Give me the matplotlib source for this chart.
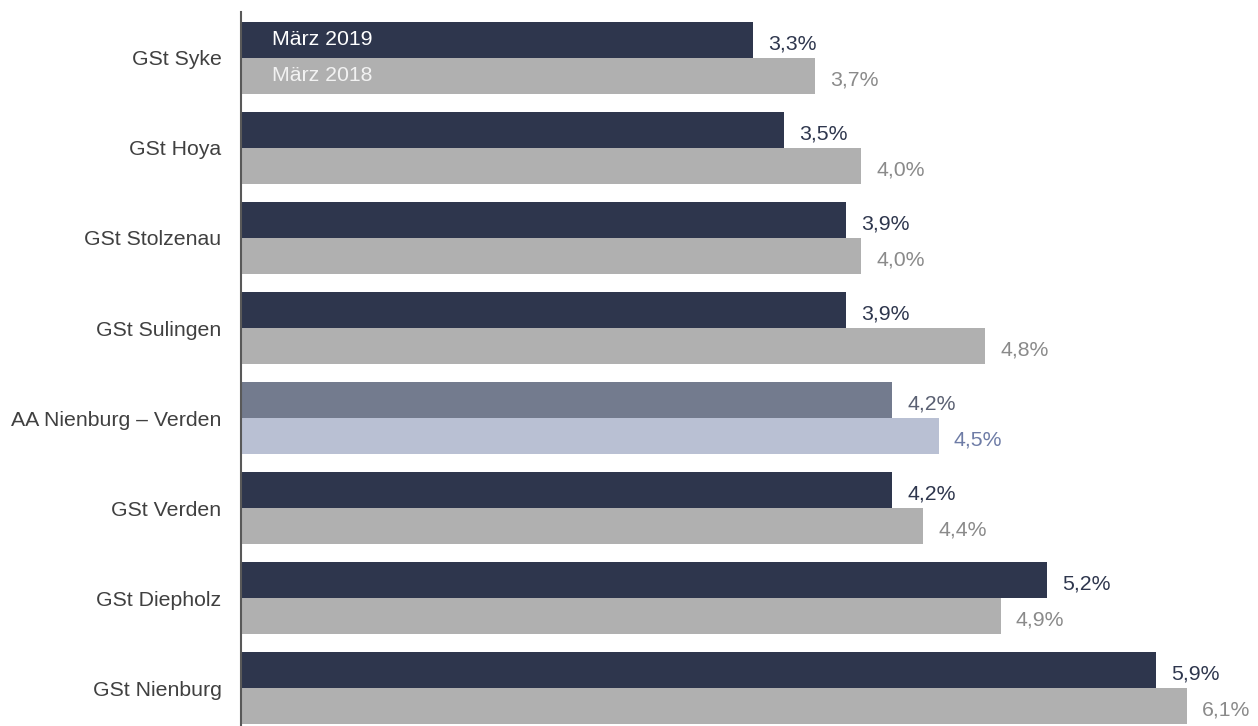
import numpy as np
import matplotlib.pyplot as plt

plt.rcParams['font.family'] = ['Liberation Sans', 'DejaVu Sans']

categories = ['GSt Syke', 'GSt Hoya', 'GSt Stolzenau', 'GSt Sulingen',
              'AA Nienburg – Verden', 'GSt Verden', 'GSt Diepholz', 'GSt Nienburg']
maerz_2019 = [3.3, 3.5, 3.9, 3.9, 4.2, 4.2, 5.2, 5.9]
maerz_2018 = [3.7, 4.0, 4.0, 4.8, 4.5, 4.4, 4.9, 6.1]
highlight = 'AA Nienburg – Verden'

dark, grey = '#2e364d', '#b0b0b0'
hl_dark, hl_light = '#737b8e', '#b9c0d3'
fs = 15.3

fig = plt.figure(figsize=(12.58, 7.26), dpi=100)
ax = fig.add_axes([241 / 1258, 0, 1017 / 1258, 714 / 726])

y = np.arange(len(categories))
h = 0.4
for i, cat in enumerate(categories):
    is_hl = cat == highlight
    c1 = hl_dark if is_hl else dark
    c2 = hl_light if is_hl else grey
    t1 = '#5a6072' if is_hl else '#2e364d'
    t2 = '#6e7ca6' if is_hl else '#8a8a8a'
    ax.barh(y[i] - h / 2, maerz_2019[i], height=h, color=c1)
    ax.barh(y[i] + h / 2, maerz_2018[i], height=h, color=c2)
    ax.text(maerz_2019[i] + 0.1, y[i] - h / 2 + 0.04, f'{maerz_2019[i]:.1f}%'.replace('.', ','),
            va='center', ha='left', fontsize=fs, color=t1)
    ax.text(maerz_2018[i] + 0.1, y[i] + h / 2 + 0.04, f'{maerz_2018[i]:.1f}%'.replace('.', ','),
            va='center', ha='left', fontsize=fs, color=t2)

# legend labels inside the first bars
ax.text(0.2, y[0] - h / 2, 'März 2019', va='center', ha='left', fontsize=fs, color='white')
ax.text(0.2, y[0] + h / 2, 'März 2018', va='center', ha='left', fontsize=fs, color='#f2f2f2')

ax.set_xlim(0, 1017 / 155)
ax.set_ylim(7.422, -0.511)
ax.set_yticks(y)
ax.set_yticklabels(categories, fontsize=fs, color='#404040')
ax.tick_params(axis='y', length=0, pad=14)
ax.set_xticks([])
for s in ['top', 'right', 'bottom']:
    ax.spines[s].set_visible(False)
ax.spines['left'].set_color('#595959')
ax.spines['left'].set_linewidth(1.5)

fig.savefig('out.png', dpi=100)
